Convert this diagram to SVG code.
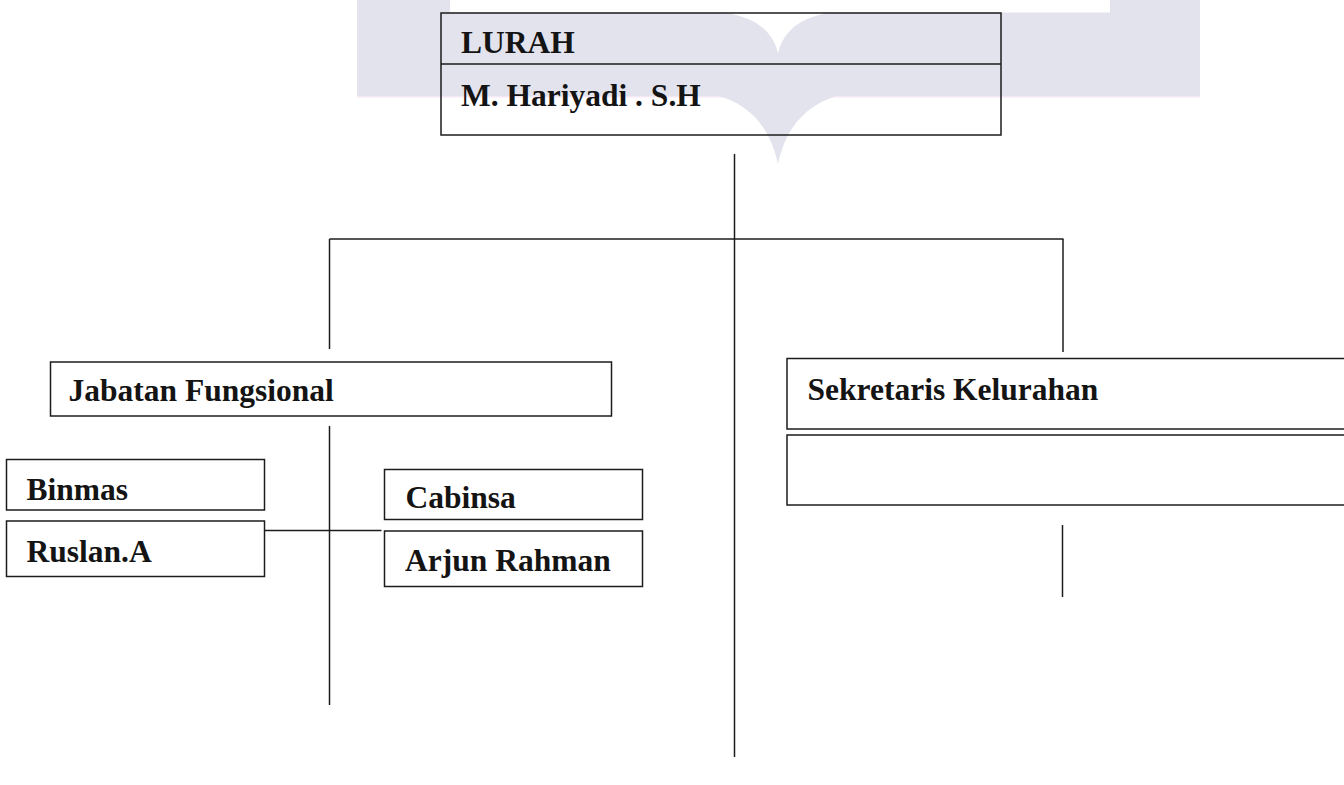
<svg xmlns="http://www.w3.org/2000/svg" width="1344" height="785" viewBox="0 0 1344 785">
  <style>
    .box { fill: none; stroke: #1c1c1c; stroke-width: 1.5; }
    .wire { stroke: #1c1c1c; stroke-width: 1.5; fill: none; }
    .lbl { font-family: "Liberation Serif", "Times New Roman", serif; font-weight: bold; font-size: 31.5px; fill: #141414; }
    .mark { fill: #e3e3ee; }
  </style>

  <rect width="1344" height="785" fill="#ffffff"/>

  <!-- faint background emblem -->
  <g id="emblem">
    <rect class="mark" x="357" y="0" width="843" height="96"/>
    <rect x="357" y="96" width="843" height="1.5" fill="#f6e8f6"/>
    <rect x="450" y="0" width="660" height="12.5" fill="#ffffff"/>
    <path class="mark" d="M 716 95 C 748 104, 769 124, 778 164 C 787 124, 808 104, 840 95 Z"/>
    <path fill="#ffffff" d="M 727 13 Q 770 20 778 53 Q 786 20 828 13 Z"/>
  </g>

  <!-- connectors -->
  <g id="connectors">
    <line class="wire" x1="734.5" y1="154" x2="734.5" y2="757"/>
    <line class="wire" x1="329.5" y1="239" x2="1063.5" y2="239"/>
    <line class="wire" x1="329.5" y1="239" x2="329.5" y2="349"/>
    <line class="wire" x1="1063" y1="239" x2="1063" y2="352"/>
    <line class="wire" x1="329.5" y1="426" x2="329.5" y2="705"/>
    <line class="wire" x1="264.5" y1="530.5" x2="381.5" y2="530.5"/>
    <line class="wire" x1="1062.5" y1="525" x2="1062.5" y2="597"/>
  </g>

  <g id="lurah">
    <rect class="box" x="441" y="13" width="560" height="122"/>
    <line class="wire" x1="441" y1="64" x2="1001" y2="64"/>
    <text class="lbl" x="461" y="52.5">LURAH</text>
    <text class="lbl" x="461" y="106">M. Hariyadi . S.H</text>
  </g>

  <g id="jabatan-fungsional">
    <rect class="box" x="50.5" y="362" width="561" height="54"/>
    <text class="lbl" x="68.5" y="401">Jabatan Fungsional</text>
  </g>

  <g id="binmas">
    <rect class="box" x="6.5" y="459.5" width="258" height="50.5"/>
    <text class="lbl" x="26.5" y="499.5">Binmas</text>
  </g>

  <g id="ruslan">
    <rect class="box" x="6.5" y="521" width="258" height="55.5"/>
    <text class="lbl" x="26.5" y="561.5">Ruslan.A</text>
  </g>

  <g id="cabinsa">
    <rect class="box" x="384.5" y="469.5" width="258" height="50"/>
    <text class="lbl" x="405.5" y="508">Cabinsa</text>
  </g>

  <g id="arjun">
    <rect class="box" x="384.5" y="531" width="258" height="55.5"/>
    <text class="lbl" x="405" y="571">Arjun Rahman</text>
  </g>

  <g id="sekretaris">
    <rect class="box" x="787" y="358.5" width="570" height="70.5"/>
    <text class="lbl" x="807.5" y="399.5">Sekretaris Kelurahan</text>
  </g>

  <g id="sekretaris-name">
    <rect class="box" x="787" y="435" width="570" height="70"/>
  </g>
</svg>
